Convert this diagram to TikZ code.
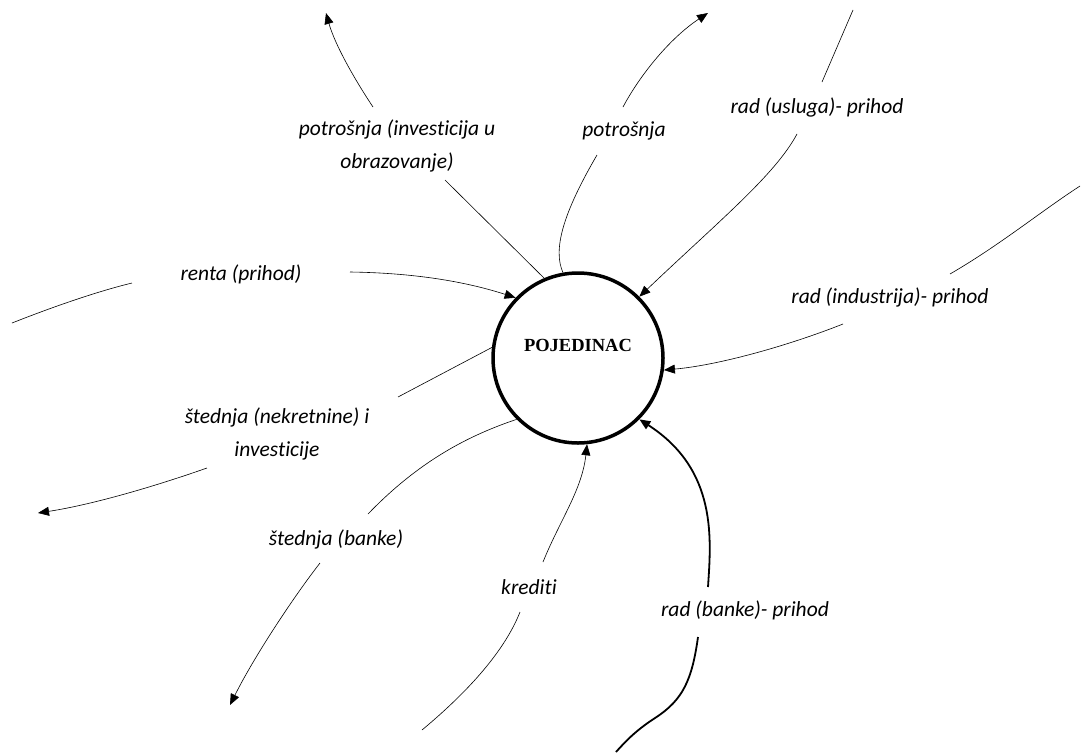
\documentclass[tikz,border=0pt]{standalone}
\usepackage{fontspec}
\newfontfamily\labfont[Ligatures=NoCommon]{Carlito}
\newfontfamily\titfont{Liberation Serif}
\usetikzlibrary{arrows.meta}
\begin{document}
\begin{tikzpicture}[x=1pt,y=-1pt,
  lab/.style={font=\labfont\itshape\fontsize{21.5}{33}\selectfont, align=center, inner sep=0pt},
  conn/.style={line width=0.6pt},
  heavy/.style={line width=1.8pt},
  tip/.style={-{Triangle[length=11pt,width=9pt]}}]
\useasboundingbox (0,0) rectangle (1082,753);
% centre
\node[circle, draw, line width=3.5pt, minimum size=170pt, inner sep=0pt] (P) at (578,358) {};
\node[font=\titfont\bfseries\fontsize{18.5}{22}\selectfont] (title) at (578,345) {POJEDINAC};
% labels
\node[lab] (l1) at (397,146) {potrošnja (investicija u\\obrazovanje)};
\node[lab] (l2) at (624,131) {potrošnja};
\node[lab] (l3) at (817,107) {rad (usluga)- prihod};
\node[lab] (l4) at (890,297) {rad (industrija)- prihod};
\node[lab] (l5) at (241,274) {renta (prihod)};
\node[lab] (l6) at (277,434) {štednja (nekretnine) i\\investicije};
\node[lab] (l7) at (336,539) {štednja (banke)};
\node[lab] (l8) at (529,587) {krediti};
\node[lab] (l9) at (745,610) {rad (banke)- prihod};
% coordinates
\coordinate (o1) at (326,13);  \coordinate (a1) at (373,107); \coordinate (b1) at (445,180);
\coordinate (a2) at (597,155); \coordinate (b2) at (623,107); \coordinate (o2) at (708,13);
\coordinate (o3) at (853,10);  \coordinate (a3) at (822,82);  \coordinate (b3) at (797,134);
\coordinate (o4) at (1080,186); \coordinate (a4) at (950,274); \coordinate (b4) at (843,324);
\coordinate (o5) at (12,323);  \coordinate (a5) at (132,283); \coordinate (b5) at (350,272);
\coordinate (a6) at (398,397); \coordinate (b6) at (207,468); \coordinate (o6) at (38,513);
\coordinate (a7) at (368,514); \coordinate (b7) at (320,563); \coordinate (o7) at (230,705);
\coordinate (o8) at (422,730); \coordinate (a8) at (520,612); \coordinate (b8) at (543,562);
\coordinate (o9) at (616,752); \coordinate (a9) at (698,637); \coordinate (b9) at (708,587);
% connectors
\draw[conn,tip] (a1) .. controls (355,80) and (335,45) .. (o1);
\draw[conn] (b1) -- (P.113);
\draw[conn] (P.100) .. controls (553,250) and (562,215) .. (a2);
\draw[conn,tip] (b2) .. controls (640,75) and (670,38) .. (o2);
\draw[conn] (o3) -- (a3);
\draw[conn,tip] (b3) .. controls (775,175) and (720,220) .. (P.45);
\draw[conn] (o4) .. controls (1040,212) and (1000,245) .. (a4);
\draw[conn,tip] (b4) .. controls (790,345) and (720,365) .. (P.-8);
\draw[conn] (o5) .. controls (50,308) and (95,292) .. (a5);
\draw[conn,tip] (b5) .. controls (420,273) and (470,283) .. (P.136);
\draw[conn] (P.173) -- (a6);
\draw[conn,tip] (b6) .. controls (150,488) and (90,505) .. (o6);
\draw[conn] (P.225) .. controls (470,435) and (420,460) .. (a7);
\draw[conn,tip] (b7) .. controls (295,595) and (255,655) .. (o7);
\draw[conn] (o8) .. controls (470,690) and (505,650) .. (a8);
\draw[conn,tip] (b8) .. controls (560,520) and (582,490) .. (P.-84);
\draw[heavy] (o9) .. controls (625,742) and (635,731) .. (655,718) .. controls (683,700) and (692,680) .. (a9);
\draw[heavy,tip] (b9) .. controls (711,540) and (718,470) .. (P.-45);
\end{tikzpicture}
\end{document}
